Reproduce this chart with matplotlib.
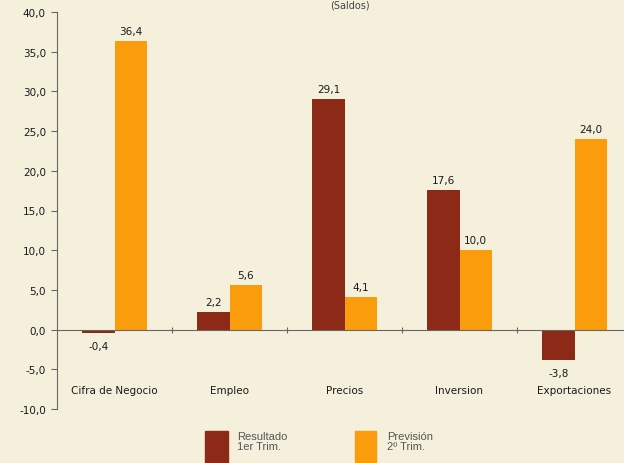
import numpy as np
import matplotlib.pyplot as plt
from matplotlib.patches import Rectangle

# datos
categorias = ['Cifra de Negocio', 'Empleo', 'Precios', 'Inversion', 'Exportaciones']
resultado_1t = [-0.4, 2.2, 29.1, 17.6, -3.8]
prevision_2t = [36.4, 5.6, 4.1, 10.0, 24.0]
y_ticks = [-10, -5, 0, 5, 10, 15, 20, 25, 30, 35, 40]

c_marron = '#8c2a17'
c_naranja = '#fa9c0c'
fondo = '#f4f0dc'

def coma(v):
    return f'{v:.1f}'.replace('.', ',')

fig = plt.figure(figsize=(6.24, 4.64), dpi=100, facecolor=fondo)
ax = fig.add_axes([57 / 624, 54 / 464, 575 / 624, 397 / 464])
ax.set_facecolor(fondo)

x = np.arange(len(categorias)) + 0.5
w = 0.28
b1 = ax.bar(x - w / 2, resultado_1t, w, color=c_marron, label='Resultado\n1er Trim.')
b2 = ax.bar(x + w / 2, prevision_2t, w, color=c_naranja, label='Previsión\n2º Trim.')

# etiquetas de valores
for barras, vals in [(b1, resultado_1t), (b2, prevision_2t)]:
    for r, v in zip(barras, vals):
        cx = r.get_x() + r.get_width() / 2
        if v >= 0:
            ax.text(cx, v + 0.6, coma(v), ha='center', va='bottom', fontsize=7.5, color='#1a1a1a')
        else:
            ax.text(cx, v - 1.0, coma(v), ha='center', va='top', fontsize=7.5, color='#1a1a1a')

# ejes
ax.set_xlim(0, 5)
ax.set_ylim(-10, 40)
ax.set_yticks(y_ticks)
ax.set_yticklabels([coma(t) for t in y_ticks], fontsize=7.5, color='#1a1a1a')
ax.tick_params(axis='y', length=4, width=0.8, color='#666666', pad=4)

ax.spines['top'].set_visible(False)
ax.spines['right'].set_visible(False)
ax.spines['left'].set_color('#666666')
ax.spines['bottom'].set_position(('data', 0))
ax.spines['bottom'].set_color('#666666')
ax.set_xticks([1, 2, 3, 4])
ax.set_xticklabels([])
ax.tick_params(axis='x', length=4, width=0.8, color='#666666', direction='inout')

for xi, cat in zip(x, categorias):
    ax.text(xi, -7.6, cat, ha='center', va='center', fontsize=7.5, color='#1a1a1a')

# titulo (recortado arriba en el original)
fig.text(350 / 624, 1 - 1 / 464, '(Saldos)', ha='center', va='top', fontsize=7, color='#444444')

# leyenda
fig.add_artist(Rectangle((205 / 624, 0), 23 / 624, 32 / 464, transform=fig.transFigure,
                         color=c_marron, clip_on=False))
fig.add_artist(Rectangle((355 / 624, 0), 21 / 624, 32 / 464, transform=fig.transFigure,
                         color=c_naranja, clip_on=False))
fig.text(237 / 624, 1 - 432 / 464, 'Resultado\n1er Trim.', ha='left', va='top', fontsize=8,
         family='Liberation Sans', color='#555555', linespacing=1.05)
fig.text(387 / 624, 1 - 432 / 464, 'Previsión\n2º Trim.', ha='left', va='top', fontsize=8,
         family='Liberation Sans', color='#555555', linespacing=1.05)

plt.savefig('out.png', dpi=100, facecolor=fondo)
